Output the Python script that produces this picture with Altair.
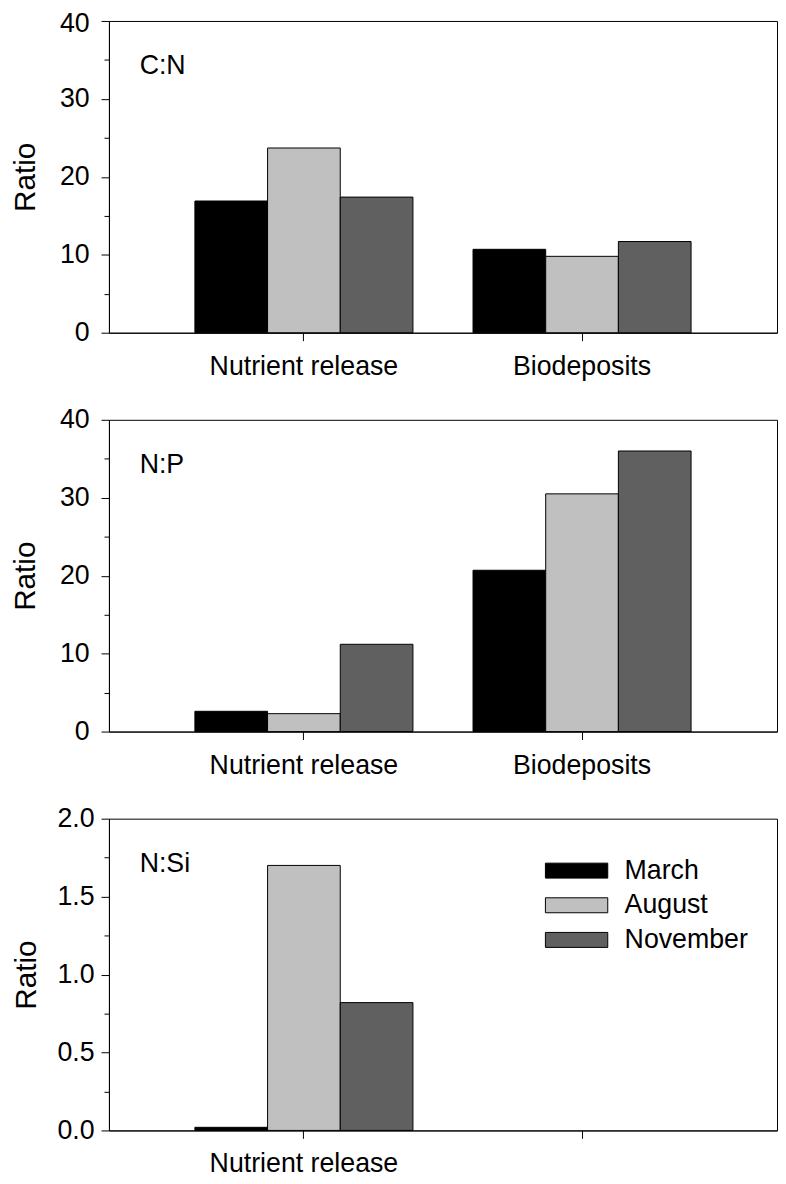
import altair as alt
import pandas as pd

categories = ["Nutrient release", "Biodeposits"]
months = ["March", "August", "November"]
colors = ["#000000", "#c0c0c0", "#606060"]

# C:N ratios
cn_release = [16.9, 23.7, 17.4]
cn_biodep = [10.7, 9.8, 11.7]
# N:P ratios
np_release = [2.6, 2.3, 11.2]
np_biodep = [20.7, 30.5, 36.0]
# N:Si ratios (release only)
nsi_release = [0.02, 1.70, 0.82]

FONT = "Liberation Sans"
W, H = 675, 315


def make_df(release, biodep):
    rows = []
    for m, v in zip(months, release):
        rows.append({"category": categories[0], "month": m, "value": v})
    if biodep is not None:
        for m, v in zip(months, biodep):
            rows.append({"category": categories[1], "month": m, "value": v})
    return pd.DataFrame(rows)


def panel(df, label, ymax, major, minor, fmt, label_pad, title_pad, top_shift,
          show_legend=False, hide_bio=False):
    nvals = int(round(ymax / minor)) + 1
    vals = [round(i * minor, 4) for i in range(nvals)]
    is_major = f"abs(datum.value / {major} - round(datum.value / {major})) < 1e-6"
    label_expr = "datum.value == 'Biodeposits' ? '' : datum.label" if hide_bio else "datum.label"
    legend = None
    if show_legend:
        legend = alt.Legend(
            title=None,
            orient="none",
            legendX=456,
            legendY=36,
            symbolType="M-2,-0.48H2V0.48H-2Z",
            symbolSize=992,
            symbolStrokeColor="black",
            symbolStrokeWidth=1,
            labelFont=FONT,
            labelFontSize=27,
            labelColor="black",
            labelOffset=32,
            rowPadding=5,
            padding=0,
        )
    bars = alt.Chart(df).mark_bar(stroke="black", strokeWidth=1).encode(
        x=alt.X(
            "category:N",
            sort=categories,
            scale=alt.Scale(domain=categories, paddingInner=0.216, paddingOuter=0.309),
            axis=alt.Axis(
                title=None,
                labelAngle=0,
                labelFont=FONT,
                labelFontSize=27,
                labelColor="black",
                labelPadding=13,
                labelLimit=0,
                tickSize=8,
                tickColor="black",
                domainColor="black",
                labelExpr=label_expr,
            ),
        ),
        xOffset=alt.XOffset(
            "month:N", sort=months,
            scale=alt.Scale(domain=months, paddingInner=0, paddingOuter=0),
        ),
        y=alt.Y(
            "value:Q",
            scale=alt.Scale(domain=[0, ymax], nice=False, zero=True),
            axis=alt.Axis(
                title="Ratio",
                titleFont=FONT,
                titleFontSize=30,
                titleFontWeight="normal",
                titleColor="black",
                titlePadding=title_pad,
                values=vals,
                format=fmt,
                labelExpr=f"{is_major} ? datum.label : ''",
                labelFont=FONT,
                labelFontSize=27,
                labelColor="black",
                labelPadding=label_pad,
                labelOffset={"condition": {"test": f"datum.value == {ymax}", "value": top_shift}, "value": 0},
                tickSize={"condition": {"test": is_major, "value": 8}, "value": 5},
                tickColor="black",
                domainColor="black",
                grid=False,
            ),
        ),
        color=alt.Color(
            "month:N", sort=months,
            scale=alt.Scale(domain=months, range=colors),
            legend=legend,
        ),
    )
    txt = alt.Chart(pd.DataFrame({"t": [label]})).mark_text(
        align="left", baseline="middle", font=FONT, fontSize=27, color="black"
    ).encode(text="t:N", x=alt.value(31), y=alt.value(46))
    return alt.layer(bars, txt).properties(width=W, height=H)


p1 = panel(make_df(cn_release, cn_biodep), "C:N", 40, 10, 5, "d", 12, 19, 3)
p2 = panel(make_df(np_release, np_biodep), "N:P", 40, 10, 5, "d", 12, 19, 0)
p3 = panel(make_df(nsi_release, None), "N:Si", 2.0, 0.5, 0.25, ".1f", 7, 16, 0,
           show_legend=True, hide_bio=True)

chart = alt.vconcat(
    p1, p2, p3, spacing=25,
    padding={"top": -5, "left": 2, "right": 0, "bottom": -3},
).resolve_scale(
    color="independent"
).configure(background="white").configure_view(stroke="black", strokeWidth=1)

chart.save("out.html", embed_options={"renderer": "svg", "actions": False})
